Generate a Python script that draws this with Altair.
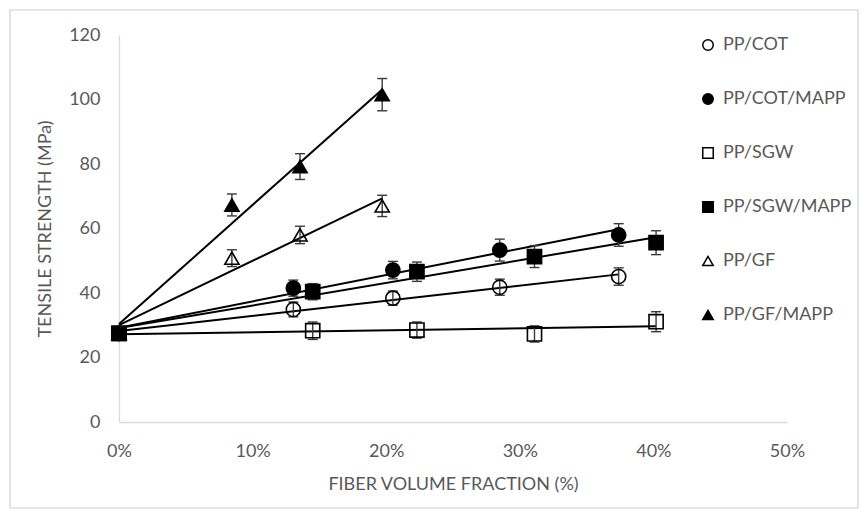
import altair as alt
import pandas as pd

# Composite series and their fibre volume fractions (%)
series = ["PP/COT", "PP/COT/MAPP", "PP/SGW", "PP/SGW/MAPP", "PP/GF", "PP/GF/MAPP"]
shapes = ["circle", "circle", "square", "square", "triangle-up", "triangle-up"]
fills = ["transparent", "black", "transparent", "black", "transparent", "black"]
strokes = ["black"] * 6

x_cot = [0, 13.05, 20.5, 28.5, 37.4]
x_sgw = [0, 14.5, 22.3, 31.1, 40.2]
x_gf = [0, 8.45, 13.55, 19.7]

# Tensile strength (MPa) and standard deviation for each series
y_cot = [27.5, 34.9, 38.4, 41.8, 45.1]
e_cot = [1.0, 2.3, 2.2, 2.5, 2.7]
y_cot_mapp = [27.5, 41.5, 47.1, 53.3, 58.0]
e_cot_mapp = [1.0, 2.5, 2.7, 3.4, 3.5]
y_sgw = [27.5, 28.3, 28.5, 27.3, 31.1]
e_sgw = [1.0, 2.7, 2.5, 2.5, 3.1]
y_sgw_mapp = [27.5, 40.4, 46.6, 51.3, 55.6]
e_sgw_mapp = [1.0, 2.5, 3.0, 3.4, 3.7]
y_gf = [27.5, 50.8, 58.0, 67.0]
e_gf = [1.0, 2.6, 2.7, 3.3]
y_gf_mapp = [27.5, 67.3, 79.2, 101.5]
e_gf_mapp = [1.0, 3.4, 4.0, 5.0]

x_ticks = [0, 10, 20, 30, 40, 50]
y_ticks = [0, 20, 40, 60, 80, 100, 120]

rows = []
for name, xs, ys, es in [
    ("PP/COT", x_cot, y_cot, e_cot),
    ("PP/COT/MAPP", x_cot, y_cot_mapp, e_cot_mapp),
    ("PP/SGW", x_sgw, y_sgw, e_sgw),
    ("PP/SGW/MAPP", x_sgw, y_sgw_mapp, e_sgw_mapp),
    ("PP/GF", x_gf, y_gf, e_gf),
    ("PP/GF/MAPP", x_gf, y_gf_mapp, e_gf_mapp),
]:
    for xv, yv, ev in zip(xs, ys, es):
        rows.append({"series": name, "vf": xv, "ts": yv, "lo": yv - ev, "hi": yv + ev})
df = pd.DataFrame(rows)

FONT = "Lato"
GREY = "#595959"
FS = 18

x_enc = alt.X("vf:Q", scale=alt.Scale(domain=[0, 50]),
              axis=alt.Axis(title="FIBER VOLUME FRACTION (%)", values=x_ticks,
                            labelExpr="datum.value + '%'", labelFlush=False))
y_enc = alt.Y("ts:Q", scale=alt.Scale(domain=[0, 120]),
              axis=alt.Axis(title="TENSILE STRENGTH (MPa)", values=y_ticks))

base = alt.Chart(df)

# Linear trend line for each composite
trend = base.transform_regression("vf", "ts", groupby=["series"]).mark_line(
    color="black", strokeWidth=2
).encode(x=x_enc, y=y_enc, detail="series:N")

# Error bars with caps
ERR = "#3a3a3a"
bars = base.mark_rule(color=ERR, strokeWidth=1.4).encode(
    x="vf:Q", y="lo:Q", y2="hi:Q"
)
cap_hi = base.mark_rule(color=ERR, strokeWidth=1.4, xOffset=-5, x2Offset=5).encode(
    x="vf:Q", x2="vf:Q", y="hi:Q"
)
cap_lo = base.mark_rule(color=ERR, strokeWidth=1.4, xOffset=-5, x2Offset=5).encode(
    x="vf:Q", x2="vf:Q", y="lo:Q"
)

legend = alt.Legend(title=None)
points = base.mark_point(strokeWidth=1.6, opacity=1, size=200).encode(
    x="vf:Q",
    y="ts:Q",
    shape=alt.Shape("series:N", scale=alt.Scale(domain=series, range=shapes), legend=legend),
    fill=alt.Fill("series:N", scale=alt.Scale(domain=series, range=fills), legend=legend),
    stroke=alt.Stroke("series:N", scale=alt.Scale(domain=series, range=strokes), legend=legend),
)

# Light outer frame around the whole figure
frame = alt.Chart(pd.DataFrame({"k": [0]})).mark_rect(
    fill=None, stroke="#d0d0d0", strokeWidth=1.2, clip=False
).encode(x=alt.value(-109), x2=alt.value(739), y=alt.value(-25), y2=alt.value(473))

chart = alt.layer(frame, trend, bars, cap_hi, cap_lo, points).properties(
    width=668,
    height=387,
    autosize=alt.AutoSizeParams(type="none"),
    padding={"left": 119, "top": 35, "right": 80, "bottom": 97},
    background="white",
).configure_view(stroke=None).configure_axis(
    grid=False,
    domainColor="#d9d9d9",
    domainWidth=1.3,
    ticks=False,
    labelFont=FONT,
    labelFontSize=FS,
    labelColor=GREY,
    titleFont=FONT,
    titleFontSize=FS,
    titleFontWeight="normal",
    titleColor=GREY,
).configure_axisX(
    labelPadding=20, titlePadding=15
).configure_axisY(
    labelPadding=19, titlePadding=14
).configure_legend(
    orient="none",
    legendX=580,
    legendY=1,
    labelFont=FONT,
    labelFontSize=FS,
    labelColor=GREY,
    symbolSize=110,
    symbolStrokeWidth=1.5,
    rowPadding=36,
    labelOffset=6,
)

chart.save("out.html", embed_options={"renderer": "svg", "actions": False})
